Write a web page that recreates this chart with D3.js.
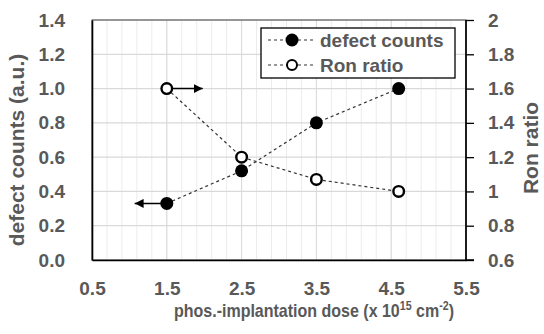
<!DOCTYPE html>
<html>
<head>
<meta charset="utf-8">
<script src="https://cdn.jsdelivr.net/npm/d3@7"></script>
<style>
  body { margin: 0; background: #fff; }
  text { font-family: "Liberation Sans", Arial, sans-serif; font-weight: bold; fill: #595959; }
</style>
</head>
<body>
<script>
  // data
  var dose = [1.5, 2.5, 3.5, 4.6];
  var defectCounts = [0.33, 0.52, 0.80, 1.0];
  var ronRatio = [1.6, 1.2, 1.07, 1.0];
  var xTicks = [0.5, 1.5, 2.5, 3.5, 4.5, 5.5];
  var yLeftTicks = [0, 0.2, 0.4, 0.6, 0.8, 1.0, 1.2, 1.4];
  var yRightTicks = [0.6, 0.8, 1, 1.2, 1.4, 1.6, 1.8, 2];
  var seriesNames = ["defect counts", "Ron ratio"];

  var w = 544, h = 334;
  var margin = {top: 20, right: 78, bottom: 74, left: 92};
  var pw = w - margin.left - margin.right;
  var ph = h - margin.top - margin.bottom;

  var svg = d3.select("body").append("svg")
    .attr("width", w).attr("height", h);

  var x = d3.scaleLinear().domain([0.5, 5.5]).range([0, pw]);
  var yL = d3.scaleLinear().domain([0, 1.4]).range([ph, 0]);
  var yR = d3.scaleLinear().domain([0.6, 2]).range([ph, 0]);

  var g = svg.append("g")
    .attr("transform", "translate(" + margin.left + "," + margin.top + ")");

  // minor vertical grid
  g.append("g").selectAll("line")
    .data(d3.range(0.5, 5.51, 0.2))
    .enter().append("line")
    .attr("x1", function (d) { return x(d); })
    .attr("x2", function (d) { return x(d); })
    .attr("y1", 0).attr("y2", ph)
    .attr("stroke", "#ececec").attr("stroke-width", 1);

  // major grid
  g.append("g").selectAll("line")
    .data(xTicks)
    .enter().append("line")
    .attr("x1", function (d) { return x(d); })
    .attr("x2", function (d) { return x(d); })
    .attr("y1", 0).attr("y2", ph)
    .attr("stroke", "#d9d9d9").attr("stroke-width", 1);

  g.append("g").selectAll("line")
    .data(yLeftTicks)
    .enter().append("line")
    .attr("x1", 0).attr("x2", pw)
    .attr("y1", function (d) { return yL(d); })
    .attr("y2", function (d) { return yL(d); })
    .attr("stroke", "#d9d9d9").attr("stroke-width", 1.2);

  // frame
  g.append("rect")
    .attr("width", pw).attr("height", ph)
    .attr("fill", "none").attr("stroke", "#404040").attr("stroke-width", 1);

  // axes
  var xAxis = g.append("g")
    .attr("transform", "translate(0," + ph + ")")
    .call(d3.axisBottom(x).tickValues(xTicks).tickSize(0).tickPadding(22)
      .tickFormat(d3.format(".1f")));

  var leftAxis = g.append("g")
    .call(d3.axisLeft(yL).tickValues(yLeftTicks).tickSize(0).tickPadding(27)
      .tickFormat(d3.format(".1f")));

  var rightAxis = g.append("g")
    .attr("transform", "translate(" + pw + ",0)")
    .call(d3.axisRight(yR).tickValues(yRightTicks).tickSize(8).tickPadding(14)
      .tickFormat(function (d) { return d3.format("")(+d.toFixed(1)); }));

  [xAxis, leftAxis, rightAxis].forEach(function (a) {
    a.selectAll(".domain").attr("stroke", "#000").attr("stroke-width", 1.6);
    a.selectAll(".tick line").attr("stroke", "#000").attr("stroke-width", 1.3);
    a.selectAll(".tick text")
      .attr("font-family", "'Liberation Sans', Arial, sans-serif")
      .attr("font-weight", "bold")
      .attr("font-size", 19)
      .attr("fill", "#595959");
  });
  rightAxis.select(".domain").attr("d", "M0,0V" + ph + "H8");

  // arrows
  var defs = svg.append("defs");
  defs.append("marker")
    .attr("id", "head")
    .attr("viewBox", "0 0 10 10")
    .attr("refX", 10).attr("refY", 5)
    .attr("markerWidth", 6).attr("markerHeight", 6)
    .attr("markerUnits", "strokeWidth")
    .attr("orient", "auto")
    .append("path").attr("d", "M0,0L10,5L0,10Z").attr("fill", "#000");

  g.append("line")
    .attr("x1", x(dose[0])).attr("x2", x(1.98))
    .attr("y1", yR(ronRatio[0])).attr("y2", yR(ronRatio[0]))
    .attr("stroke", "#000").attr("stroke-width", 1.5)
    .attr("marker-end", "url(#head)");

  g.append("line")
    .attr("x1", x(dose[0])).attr("x2", x(1.07))
    .attr("y1", yL(defectCounts[0])).attr("y2", yL(defectCounts[0]))
    .attr("stroke", "#000").attr("stroke-width", 1.5)
    .attr("marker-end", "url(#head)");

  // series lines
  var lineL = d3.line()
    .x(function (d, i) { return x(dose[i]); })
    .y(function (d) { return yL(d); });
  var lineR = d3.line()
    .x(function (d, i) { return x(dose[i]); })
    .y(function (d) { return yR(d); });

  g.append("path").datum(defectCounts)
    .attr("d", lineL).attr("fill", "none")
    .attr("stroke", "#333").attr("stroke-width", 1.2)
    .attr("stroke-dasharray", "3,3");

  g.append("path").datum(ronRatio)
    .attr("d", lineR).attr("fill", "none")
    .attr("stroke", "#333").attr("stroke-width", 1.2)
    .attr("stroke-dasharray", "3,3");

  g.selectAll("circle.filled")
    .data(defectCounts)
    .enter().append("circle")
    .attr("class", "filled")
    .attr("cx", function (d, i) { return x(dose[i]); })
    .attr("cy", function (d) { return yL(d); })
    .attr("r", 6.5)
    .attr("fill", "#000");

  g.selectAll("circle.open")
    .data(ronRatio)
    .enter().append("circle")
    .attr("class", "open")
    .attr("cx", function (d, i) { return x(dose[i]); })
    .attr("cy", function (d) { return yR(d); })
    .attr("r", 5.3)
    .attr("fill", "#fff")
    .attr("stroke", "#000").attr("stroke-width", 2.4);

  // legend
  var legend = svg.append("g").attr("transform", "translate(261,28)");
  legend.append("rect")
    .attr("width", 194).attr("height", 50)
    .attr("fill", "#fff").attr("stroke", "#000").attr("stroke-width", 1.3);

  seriesNames.forEach(function (name, i) {
    var ly = 12 + i * 25;
    legend.append("line")
      .attr("x1", 7).attr("x2", 55).attr("y1", ly).attr("y2", ly)
      .attr("stroke", "#333").attr("stroke-width", 1.2)
      .attr("stroke-dasharray", "3,3");
    if (i === 0) {
      legend.append("circle").attr("cx", 31).attr("cy", ly).attr("r", 6.5).attr("fill", "#000");
    } else {
      legend.append("circle").attr("cx", 31).attr("cy", ly).attr("r", 5)
        .attr("fill", "#fff").attr("stroke", "#000").attr("stroke-width", 2);
    }
    legend.append("text")
      .attr("x", 59).attr("y", ly)
      .attr("dy", "0.35em")
      .attr("font-size", 19)
      .text(name);
  });

  // axis titles (x title squeezed a little, the original font is narrower)
  var xt = svg.append("text")
    .attr("transform", "translate(314,317) scale(0.89,1)")
    .attr("text-anchor", "middle")
    .attr("font-size", 18);
  xt.append("tspan").text("phos.-implantation dose (x 10");
  xt.append("tspan").attr("font-size", 12).attr("dy", -7).text("15");
  xt.append("tspan").attr("dy", 7).text(" cm");
  xt.append("tspan").attr("font-size", 12).attr("dy", -7).text("-2");
  xt.append("tspan").attr("dy", 7).text(")");

  svg.append("text")
    .attr("transform", "translate(24,150) rotate(-90)")
    .attr("text-anchor", "middle")
    .attr("font-size", 21)
    .text("defect counts (a.u.)");

  svg.append("text")
    .attr("transform", "translate(538,148) rotate(-90)")
    .attr("text-anchor", "middle")
    .attr("font-size", 21)
    .text("Ron ratio");
</script>
</body>
</html>
